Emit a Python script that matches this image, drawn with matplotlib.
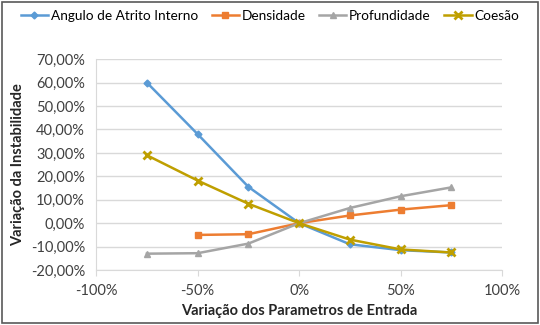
import matplotlib
matplotlib.use("Agg")
import matplotlib.pyplot as plt
from matplotlib.ticker import FuncFormatter
from matplotlib.patches import Rectangle

plt.rcParams['font.family'] = ['Lato', 'DejaVu Sans']

x = [-75, -50, -25, 0, 25, 50, 75]
x_dens = [-50, -25, 0, 25, 50, 75]

angulo = [60.0, 38.0, 15.5, 0.0, -9.0, -11.5, -12.5]
densidade = [-5.0, -4.7, 0.0, 3.3, 5.8, 7.7]
profundidade = [-13.0, -12.8, -8.7, 0.0, 6.5, 11.5, 15.3]
coesao = [29.0, 18.2, 8.3, 0.0, -7.0, -11.2, -12.5]

fig = plt.figure(figsize=(5.4, 3.25), dpi=100)
ax = fig.add_axes([0.178, 0.169, 0.752, 0.649])

ax.plot(x, angulo, color="#5B9BD5", marker="D", markersize=3.5, linewidth=1.8, label="Angulo de Atrito Interno")
ax.plot(x_dens, densidade, color="#ED7D31", marker="s", markersize=5, linewidth=1.8, label="Densidade")
ax.plot(x, profundidade, color="#A5A5A5", marker="^", markersize=5, linewidth=1.8, label="Profundidade")
ax.plot(x, coesao, color="#BF9F00", marker="x", markersize=6, markeredgewidth=2, linewidth=1.8, label="Coesão")

ax.set_xlim(-100, 100)
ax.set_ylim(-20, 70)
ax.set_xticks([-100, -50, 0, 50, 100])
ax.set_yticks(range(-20, 71, 10))
ax.xaxis.set_major_formatter(FuncFormatter(lambda v, p: f"{v:.0f}%"))
ax.yaxis.set_major_formatter(FuncFormatter(lambda v, p: f"{v:.2f}%".replace(".", ",")))
ax.grid(axis="y", color="#D9D9D9", linewidth=1)
ax.set_axisbelow(True)
for s in ["top", "right"]:
    ax.spines[s].set_visible(False)
ax.spines["left"].set_color("#D9D9D9")
ax.spines["bottom"].set_color("#D9D9D9")
ax.tick_params(axis="y", length=0, labelsize=10.5, colors="#404040", pad=8)
ax.tick_params(axis="x", length=4, color="#D9D9D9", labelsize=10.5, colors="#404040", pad=6)

ax.set_xlabel("Variação dos Parametros de Entrada", fontsize=10.5, fontweight="bold", color="#262626")
ax.set_ylabel("Variação da Instabilidade", fontsize=10.5, fontweight="bold", color="#262626")

fig.legend(loc="upper center", bbox_to_anchor=(0.5, 0.99), ncol=4, frameon=False,
           fontsize=9.8, handlelength=2.0, columnspacing=1.0, handletextpad=0.2,
           borderpad=0.3, borderaxespad=0.2)

fig.patches.append(Rectangle((0.004, 0.006), 0.992, 0.988, transform=fig.transFigure,
                             fill=False, edgecolor="#595959", linewidth=1.2))

fig.savefig("out.png", dpi=100)
